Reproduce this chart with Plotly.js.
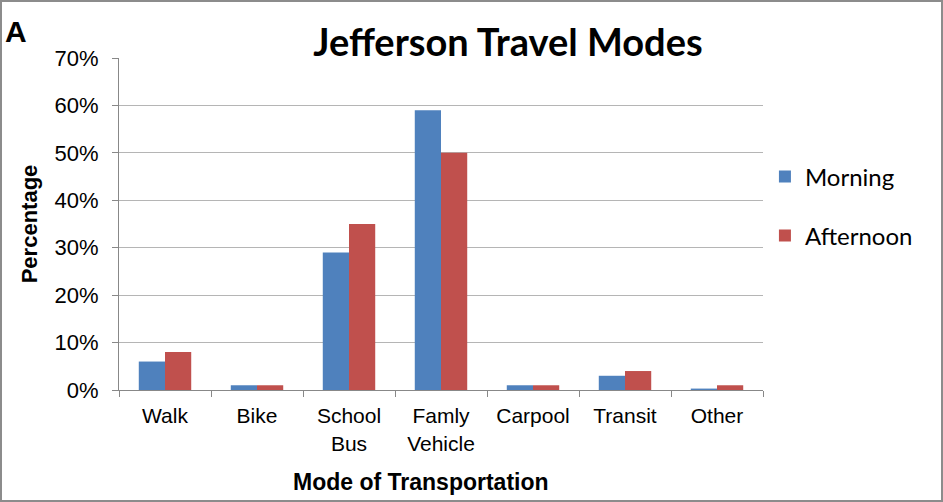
<!DOCTYPE html>
<html>
<head>
<meta charset="utf-8">
<script src="https://cdn.plot.ly/plotly-3.0.1.min.js"></script>
<style>
html,body{margin:0;padding:0;background:#fff;}
#wrap{position:relative;width:943px;height:502px;}
#chart{position:absolute;left:0;top:0;width:943px;height:502px;}
#frame{position:absolute;left:0;top:0;width:943px;height:502px;box-sizing:border-box;border:2px solid #8c8c8c;pointer-events:none;}
</style>
</head>
<body>
<div id="wrap"><div id="chart"></div><div id="frame"></div></div>
<script>
var categories = ["Walk", "Bike", "School<br>Bus", "Famly<br>Vehicle", "Carpool", "Transit", "Other"];
var morning = [6, 1, 29, 59, 1, 3, 0.3];
var afternoon = [8, 1, 35, 50, 1, 4, 1];
var yTicks = [0, 10, 20, 30, 40, 50, 60, 70];
var yTickLabels = ["0%", "10%", "20%", "30%", "40%", "50%", "60%", "70%"];

var data = [
  {type: "bar", name: "Morning", x: categories, y: morning, marker: {color: "#4F81BD"}, legendgroup: "m"},
  {type: "bar", name: "Afternoon", x: categories, y: afternoon, marker: {color: "#C0504D"}, legendgroup: "a"}
];

var layout = {
  width: 943, height: 502,
  margin: {l: 119, r: 180, t: 58, b: 112, pad: 0, autoexpand: false},
  paper_bgcolor: "#fff", plot_bgcolor: "#fff",
  barmode: "group", bargap: 0.43, bargroupgap: 0,
  showlegend: true,
  legend: {x: 1.003, xanchor: "left", y: 0.71, yanchor: "top", font: {family: "Lato, 'Open Sans', sans-serif", size: 24, color: "#000"}, tracegroupgap: 25, traceorder: "grouped"},
  title: {text: "<b>Jefferson Travel Modes</b>", font: {family: "Lato, 'Open Sans', sans-serif", size: 38, color: "#000"}, xref: "paper", x: 0.604, xanchor: "center", yref: "container", y: 0.915, yanchor: "middle"},
  xaxis: {
    type: "category", tickson: "boundaries", ticks: "outside", ticklen: 6, tickcolor: "#888",
    showline: true, linecolor: "#888", linewidth: 1, showgrid: false,
    ticklabelstandoff: 7,
    tickfont: {family: "'Liberation Sans', Arial, sans-serif", size: 21, color: "#000"},
    fixedrange: true
  },
  yaxis: {
    range: [0, 70], tickvals: yTicks, ticktext: yTickLabels, ticks: "outside", ticklen: 6, tickcolor: "#888",
    showline: true, linecolor: "#888", linewidth: 1, showgrid: true, gridcolor: "#b5b5b5", gridwidth: 1,
    zeroline: false,
    ticklabelstandoff: 9,
    tickfont: {family: "'Liberation Sans', Arial, sans-serif", size: 22, color: "#000"},
    title: {text: "<b>Percentage</b>", font: {family: "'Liberation Sans', Arial, sans-serif", size: 22, color: "#000"}, standoff: 10},
    fixedrange: true
  },
  annotations: [
    {text: "<b>A</b>", xref: "paper", yref: "paper", x: -116/644, y: (390 - 31) / 332, xanchor: "left", yanchor: "middle", showarrow: false, font: {family: "'Liberation Sans', Arial, sans-serif", size: 30, color: "#000"}},
    {text: "<b>Mode of Transportation</b>", xref: "paper", yref: "paper", x: (421 - 119) / 644, y: (390 - 482) / 332, xanchor: "center", yanchor: "middle", showarrow: false, font: {family: "'Liberation Sans', Arial, sans-serif", size: 23, color: "#000"}}
  ]
};

Plotly.newPlot("chart", data, layout, {displayModeBar: false, staticPlot: true});
</script>
</body>
</html>
